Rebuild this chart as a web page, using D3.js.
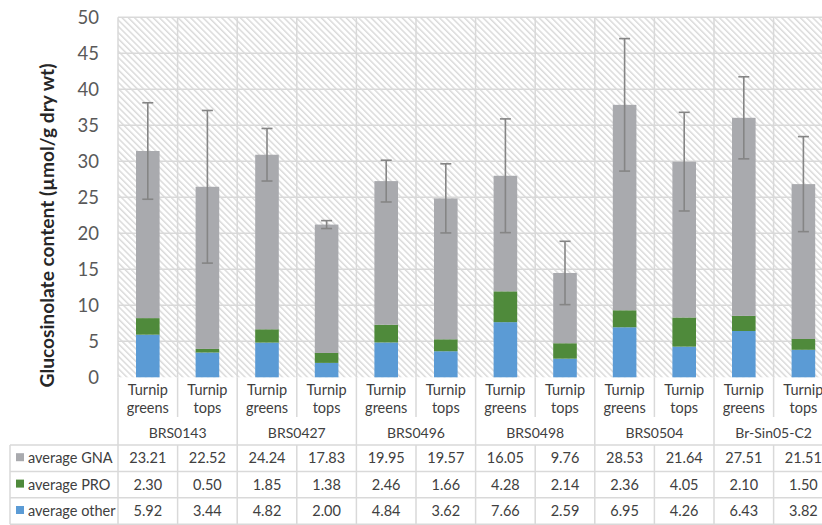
<!DOCTYPE html>
<html><head><meta charset="utf-8">
<script src="https://cdn.jsdelivr.net/npm/d3@7"></script>
<style>body{margin:0;background:#fff}svg{display:block}text{font-family:Lato,"Open Sans",sans-serif}</style>
</head><body><svg id="c" width="822" height="525"></svg>
<script>
const groups = ["BRS0143","BRS0427","BRS0496","BRS0498","BRS0504","Br-Sin05-C2"];
const parts = ["Turnip greens","Turnip tops"];
const gna   = [23.21,22.52,24.24,17.83,19.95,19.57,16.05,9.76,28.53,21.64,27.51,21.51];
const pro   = [2.30,0.50,1.85,1.38,2.46,1.66,4.28,2.14,2.36,4.05,2.10,1.50];
const other = [5.92,3.44,4.82,2.00,4.84,3.62,7.66,2.59,6.95,4.26,6.43,3.82];
const errs  = [6.7,10.6,3.65,0.55,2.9,4.8,7.9,4.4,9.2,6.85,5.7,6.6];
const yTicks = [0,5,10,15,20,25,30,35,40,45,50];
const seriesNames = ["average GNA","average PRO","average other"];
const seriesColors = ["#a9aaae","#4f8a3b","#5b9bd5"];

const cats = [];
groups.forEach(g => parts.forEach(p => cats.push(g + "|" + p)));
const rows = cats.map((c,i) => ({cat:c, other:other[i], pro:pro[i], gna:gna[i], err:errs[i]}));

const svg = d3.select("#c");
const L = 118, R = 118 + 12*59.6, T = 17.3, B = 377.3;
const x = d3.scaleBand().domain(cats).range([L,R]);
const y = d3.scaleLinear().domain([0,50]).range([B,T]);
const grid = "#d9d9d9";

// hatch pattern
const defs = svg.append("defs");
const pat = defs.append("pattern").attr("id","hatch").attr("patternUnits","userSpaceOnUse")
  .attr("width",4.4).attr("height",4.4).attr("patternTransform","rotate(45)");
pat.append("rect").attr("width",4.4).attr("height",4.4).attr("fill","#fff");
pat.append("line").attr("x1",0).attr("y1",1).attr("x2",4.4).attr("y2",1).attr("stroke","#d2d2d2").attr("stroke-width",1.2);

svg.append("rect").attr("x",L).attr("y",T).attr("width",R-L).attr("height",B-T).attr("fill","url(#hatch)");

// horizontal gridlines
svg.append("g").selectAll("line").data(yTicks.filter(d=>d>0)).join("line")
  .attr("x1",L).attr("x2",R).attr("y1",d=>y(d)).attr("y2",d=>y(d))
  .attr("stroke",grid).attr("stroke-width",1.5);
// vertical gridlines
svg.append("g").selectAll("line").data(cats.concat(["end"])).join("line")
  .attr("x1",(d,i)=>L+i*x.step()).attr("x2",(d,i)=>L+i*x.step())
  .attr("y1",T).attr("y2",B).attr("stroke",grid).attr("stroke-width",1.5);

// y axis
const yAxis = d3.axisLeft(y).tickValues(yTicks).tickSize(0).tickPadding(19);
const ya = svg.append("g").attr("transform",`translate(${L},0)`).call(yAxis);
ya.select(".domain").remove();
ya.selectAll("text").attr("fill","#595959").attr("font-size",18.5).attr("font-family","Lato");

// stacked bars
const stack = d3.stack().keys(["other","pro","gna"])(rows);
const colorByKey = {gna:seriesColors[0], pro:seriesColors[1], other:seriesColors[2]};
const bw = 23.6;
svg.append("g").selectAll("g").data(stack).join("g").attr("fill",d=>colorByKey[d.key])
  .selectAll("rect").data(d=>d).join("rect")
  .attr("x",d=>x(d.data.cat)+x.bandwidth()/2-bw/2).attr("width",bw)
  .attr("y",d=>y(d[1])).attr("height",d=>y(d[0])-y(d[1]));

// error bars
const eg = svg.append("g").attr("stroke","#858585").attr("stroke-width",1.6);
rows.forEach(r => {
  const cx = x(r.cat)+x.bandwidth()/2, tot = r.other+r.pro+r.gna;
  eg.append("line").attr("x1",cx).attr("x2",cx).attr("y1",y(tot+r.err)).attr("y2",y(tot-r.err));
  [tot+r.err, tot-r.err].forEach(v => eg.append("line").attr("x1",cx-5.5).attr("x2",cx+5.5).attr("y1",y(v)).attr("y2",y(v)));
});

// category labels area
const lab = svg.append("g");
const rowTop = 445, rowH = 26.4;
lab.selectAll("line.cv").data(d3.range(13)).join("line")
  .attr("x1",i=>L+i*x.step()).attr("x2",i=>L+i*x.step())
  .attr("y1",B).attr("y2",i=> i%2===0 ? rowTop+3*rowH : 417)
  .attr("stroke",grid).attr("stroke-width",1.5);
lab.selectAll("line.tv").data(d3.range(1,13,2)).join("line")
  .attr("x1",i=>L+i*x.step()).attr("x2",i=>L+i*x.step())
  .attr("y1",rowTop).attr("y2",rowTop+3*rowH).attr("stroke",grid).attr("stroke-width",1.5);
lab.append("line").attr("x1",10).attr("x2",10).attr("y1",rowTop).attr("y2",rowTop+3*rowH).attr("stroke",grid).attr("stroke-width",1.5);
[0,1,2,3].forEach(k => lab.append("line").attr("x1",10).attr("x2",R).attr("y1",rowTop+k*rowH).attr("y2",rowTop+k*rowH).attr("stroke",grid).attr("stroke-width",1.5));

cats.forEach((c,i) => {
  const cx = x(c)+x.bandwidth()/2;
  const words = c.split("|")[1].split(" ");
  words.forEach((w,k) => lab.append("text").attr("x",cx).attr("y",395+k*18)
    .attr("text-anchor","middle").attr("font-size",14.5).attr("fill","#404040").text(w));
});
groups.forEach((g,i) => {
  lab.append("text").attr("x",L+(2*i+1)*x.step()).attr("y",438).attr("text-anchor","middle")
    .attr("font-size",14).attr("fill","#404040").text(g);
});

const tableData = [gna, pro, other];
tableData.forEach((arr,k) => {
  const cy = rowTop + k*rowH + rowH/2 + 5;
  lab.append("rect").attr("x",16).attr("y",cy-10).attr("width",8).attr("height",8).attr("fill",seriesColors[k]);
  lab.append("text").attr("x",28).attr("y",cy).attr("font-size",14.5).attr("fill","#404040").text(seriesNames[k]);
  arr.forEach((v,i) => lab.append("text").attr("x",x(cats[i])+x.bandwidth()/2).attr("y",cy)
    .attr("text-anchor","middle").attr("font-size",14.5).attr("fill","#404040").text(v.toFixed(2)));
});

// y axis title
svg.append("text").attr("transform",`translate(54,${(63+388)/2}) rotate(-90)`)
  .attr("text-anchor","middle").attr("font-size",19.5).attr("font-weight","bold").attr("fill","#262626")
  .attr("textLength",324).attr("lengthAdjust","spacingAndGlyphs")
  .text("Glucosinolate content (µmol/g dry wt)");
</script></body></html>
